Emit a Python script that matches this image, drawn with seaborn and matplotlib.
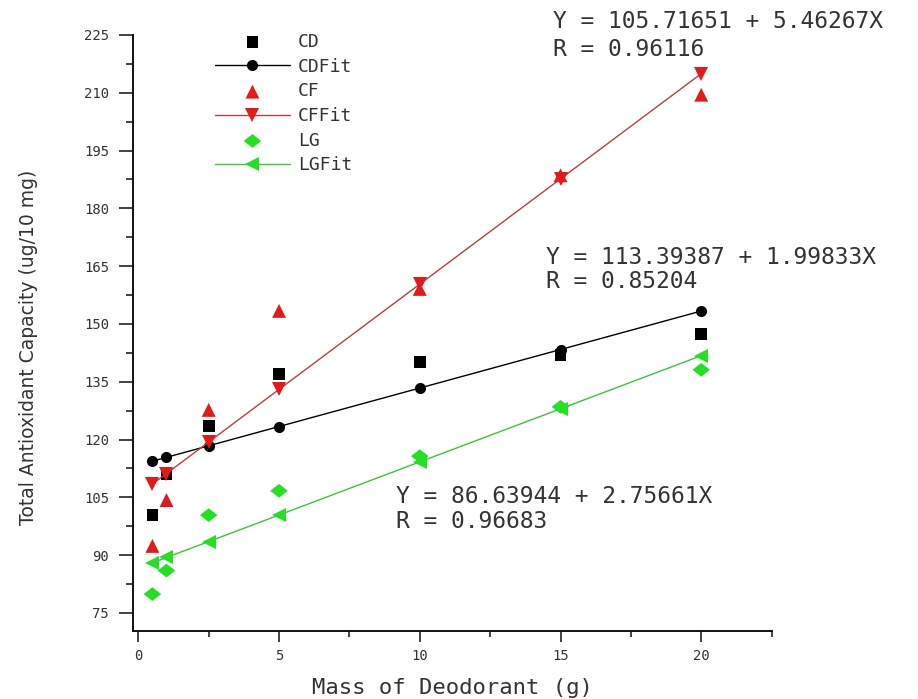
import matplotlib
matplotlib.use("Agg")
import matplotlib.pyplot as plt
import seaborn as sns
import pandas as pd
from matplotlib.ticker import MultipleLocator

# Deodorant mass (g) and measured total antioxidant capacity (ug/10 mg)
mass = [0.5, 1, 2.5, 5, 10, 15, 20]
cd = [100.4, 111.0, 123.5, 137.0, 140.2, 142.0, 147.4]
cd_fit = [114.39, 115.39, 118.39, 123.39, 133.38, 143.37, 153.36]
cf = [92.4, 104.3, 127.7, 153.4, 159.1, 188.6, 209.5]
cf_fit = [108.45, 111.18, 119.37, 133.03, 160.34, 187.66, 214.97]
lg = [79.9, 86.0, 100.4, 106.7, 115.7, 128.5, 138.1]
lg_fit = [88.02, 89.40, 93.53, 100.42, 114.21, 127.99, 141.77]

x_ticks = [0, 5, 10, 15, 20]
y_ticks = [75, 90, 105, 120, 135, 150, 165, 180, 195, 210, 225]

fit_text = [
    ("Y = 105.71651 + 5.46267X", "R = 0.96116"),
    ("Y = 113.39387 + 1.99833X", "R = 0.85204"),
    ("Y = 86.63944 + 2.75661X", "R = 0.96683"),
]

df = pd.DataFrame({
    "mass": mass, "CD": cd, "CDFit": cd_fit,
    "CF": cf, "CFFit": cf_fit, "LG": lg, "LGFit": lg_fit,
})

sns.set_theme(style="ticks")
plt.rcParams["font.family"] = ["DejaVu Sans"]
MONO = ["DejaVu Sans Mono", "DejaVu Sans"]

W, H = 918, 699
fig = plt.figure(figsize=(W / 100, H / 100), dpi=100)
fig.patch.set_facecolor("white")
left, right, top, bottom = 132.7, 771.6, 35.0, 630.7
ax = fig.add_axes([left / W, 1 - bottom / H, (right - left) / W, (bottom - top) / H])

RED = "#e41a1a"
RED_LINE = "#b84040"
GREEN = "#22e022"
GREEN_LINE = "#3cc43c"
# wide, flat diamond
DIAMOND = [(-1.0, 0.0), (0.0, 0.78), (1.0, 0.0), (0.0, -0.78), (-1.0, 0.0)]

sns.scatterplot(data=df, x="mass", y="CD", marker="s", s=70, color="black",
                edgecolor="none", label="CD", ax=ax)
sns.lineplot(data=df, x="mass", y="CDFit", marker="o", markersize=8, color="black",
             lw=1.0, markeredgewidth=0, label="CDFit", ax=ax)
sns.scatterplot(data=df, x="mass", y="CF", marker="^", s=100, color=RED,
                edgecolor="none", label="CF", ax=ax)
sns.lineplot(data=df, x="mass", y="CFFit", marker="v", markersize=9.5, color=RED_LINE,
             markerfacecolor=RED, markeredgewidth=0, lw=1.0, label="CFFit", ax=ax)
sns.scatterplot(data=df, x="mass", y="LG", marker=DIAMOND, s=160, color=GREEN,
                edgecolor="none", label="LG", ax=ax)
sns.lineplot(data=df, x="mass", y="LGFit", marker="<", markersize=9.5, color=GREEN_LINE,
             markerfacecolor=GREEN, markeredgewidth=0, lw=1.0, label="LGFit", ax=ax)

ax.set_xlim(-0.2, 22.5)
ax.set_ylim(70.4, 225)
ax.set_xticks(x_ticks)
ax.set_yticks(y_ticks)
ax.xaxis.set_minor_locator(MultipleLocator(2.5))
ax.yaxis.set_minor_locator(MultipleLocator(7.5))
ax.tick_params(axis="both", which="major", direction="out", length=8, width=1.2,
               color="#222222", labelsize=10, labelcolor="#333333", pad=5)
ax.tick_params(axis="both", which="minor", direction="out", length=4, width=1.2,
               color="#222222")
ax.tick_params(axis="y", which="major", length=10, pad=7)
ax.tick_params(axis="y", which="minor", length=5)
for lab in ax.get_xticklabels() + ax.get_yticklabels():
    lab.set_family(MONO)

sns.despine(ax=ax)
for side in ("left", "bottom"):
    ax.spines[side].set_linewidth(1.4)
    ax.spines[side].set_color("#111111")

ax.set_xlabel("Mass of Deodorant (g)", fontsize=16, color="#333333", labelpad=11,
              family=MONO)
ax.set_ylabel("Total Antioxidant Capacity (ug/10 mg)", fontsize=13.5, color="#333333",
              family=["Liberation Sans Narrow", "DejaVu Sans"])
ax.yaxis.set_label_coords(-0.148, 0.476)

handles, labels = ax.get_legend_handles_labels()
leg = ax.legend(handles, labels, loc="upper left", frameon=False,
                bbox_to_anchor=(215 / W, 1 - 33 / H), bbox_transform=fig.transFigure,
                borderaxespad=0, borderpad=0, handlelength=4.15,
                handletextpad=0.45, labelspacing=0.37,
                prop={"family": MONO, "size": 13})
for t in leg.get_texts():
    t.set_color("#333333")

# Regression equations beside each fitted line
positions = [(553, 21.7, 50.0), (546, 258.0, 281.7), (396, 496.7, 521.7)]
for (eq, r), (px, py1, py2) in zip(fit_text, positions):
    fig.text(px / W, 1 - py1 / H, eq, fontsize=16.5, color="#333333", va="center",
             ha="left", family=MONO)
    fig.text(px / W, 1 - py2 / H, r, fontsize=16.5, color="#333333", va="center",
             ha="left", family=MONO)

fig.savefig("out.png", dpi=100, facecolor="white")
